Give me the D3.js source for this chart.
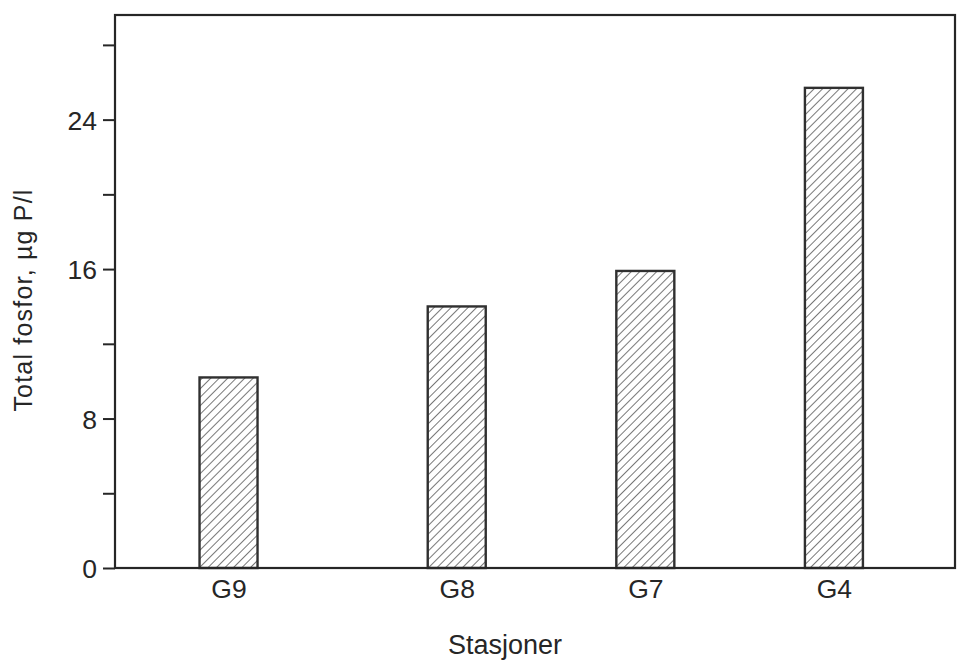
<!DOCTYPE html>
<html>
<head>
<meta charset="utf-8">
<script src="https://cdn.jsdelivr.net/npm/d3@7"></script>
<style>
  html, body { margin: 0; padding: 0; background: #fff; }
  svg { display: block; font-family: "Liberation Sans", Arial, sans-serif; }
</style>
</head>
<body>
<svg id="chart" width="958" height="661"></svg>
<script>
// ---- data ----
const stations = ["G9", "G8", "G7", "G4"];
const stationAxisPos = [0, 1.21, 2.21, 3.21];   // relative spacing along x axis
const totalPhosphorus = [10.2, 14.0, 15.9, 25.7]; // µg P/l
const yTickValues = [0, 4, 8, 12, 16, 20, 24, 28];
const yTickLabels = ["0", "", "8", "", "16", "", "24", ""];
const yTitle = "Total fosfor, µg P/l";
const xTitle = "Stasjoner";

// ---- layout ----
const W = 958, H = 661;
const margin = { top: 15, right: 3, bottom: 93, left: 115 };
const iw = W - margin.left - margin.right;
const ih = H - margin.top - margin.bottom;
const ink = "#262626";

const svg = d3.select("#chart");

const defs = svg.append("defs");
const pat = defs.append("pattern")
  .attr("id", "hatch")
  .attr("patternUnits", "userSpaceOnUse")
  .attr("width", 6).attr("height", 6)
  .attr("patternTransform", "rotate(45)");
pat.append("rect").attr("width", 6).attr("height", 6).attr("fill", "#fff");
pat.append("line")
  .attr("x1", 0).attr("y1", 0).attr("x2", 0).attr("y2", 6)
  .attr("stroke", "#2e2e2e").attr("stroke-width", 1.3);

const g = svg.append("g").attr("transform", `translate(${margin.left},${margin.top})`);

const x = d3.scaleLinear().domain([-0.602, 3.852]).range([0, iw]);
const y = d3.scaleLinear().domain([0, 29.6]).range([ih, 0]);
const barW = 58;

const data = stations.map((s, i) => ({ s, p: stationAxisPos[i], v: totalPhosphorus[i] }));

// bars
g.selectAll("rect.bar").data(data).enter().append("rect")
  .attr("class", "bar")
  .attr("x", d => x(d.p) - barW / 2)
  .attr("width", barW)
  .attr("y", d => y(d.v))
  .attr("height", d => y(0) - y(d.v))
  .attr("fill", "url(#hatch)")
  .attr("stroke", "#303030")
  .attr("stroke-width", 2.4);

// frame
g.append("rect")
  .attr("x", 0).attr("y", 0).attr("width", iw).attr("height", ih)
  .attr("fill", "none").attr("stroke", ink).attr("stroke-width", 2.2);

// y axis
const yAxis = d3.axisLeft(y)
  .tickValues(yTickValues)
  .tickSize(12)
  .tickPadding(6)
  .tickFormat((d, i) => yTickLabels[i]);
const ya = g.append("g").call(yAxis);
ya.select(".domain").remove();
ya.selectAll(".tick line").attr("stroke", ink).attr("stroke-width", 2);
ya.selectAll(".tick text")
  .attr("fill", ink)
  .style("font-size", "26.5px")
  .attr("dy", "0.36em");

// x axis labels
const xAxis = d3.axisBottom(x)
  .tickValues(stationAxisPos)
  .tickSize(0)
  .tickPadding(11)
  .tickFormat((d, i) => stations[i]);
const xa = g.append("g").attr("transform", `translate(0,${ih})`).call(xAxis);
xa.select(".domain").remove();
xa.selectAll(".tick text")
  .attr("fill", ink)
  .style("font-size", "26.5px");

// titles
svg.append("text")
  .attr("x", 505).attr("y", 654)
  .attr("text-anchor", "middle")
  .attr("fill", ink)
  .style("font-size", "27px")
  .text(xTitle);

svg.append("text")
  .attr("transform", "translate(32,300) rotate(-90)")
  .attr("text-anchor", "middle")
  .attr("fill", ink)
  .style("font-size", "25px")
  .style("letter-spacing", "1.2px")
  .text(yTitle);
</script>
</body>
</html>
